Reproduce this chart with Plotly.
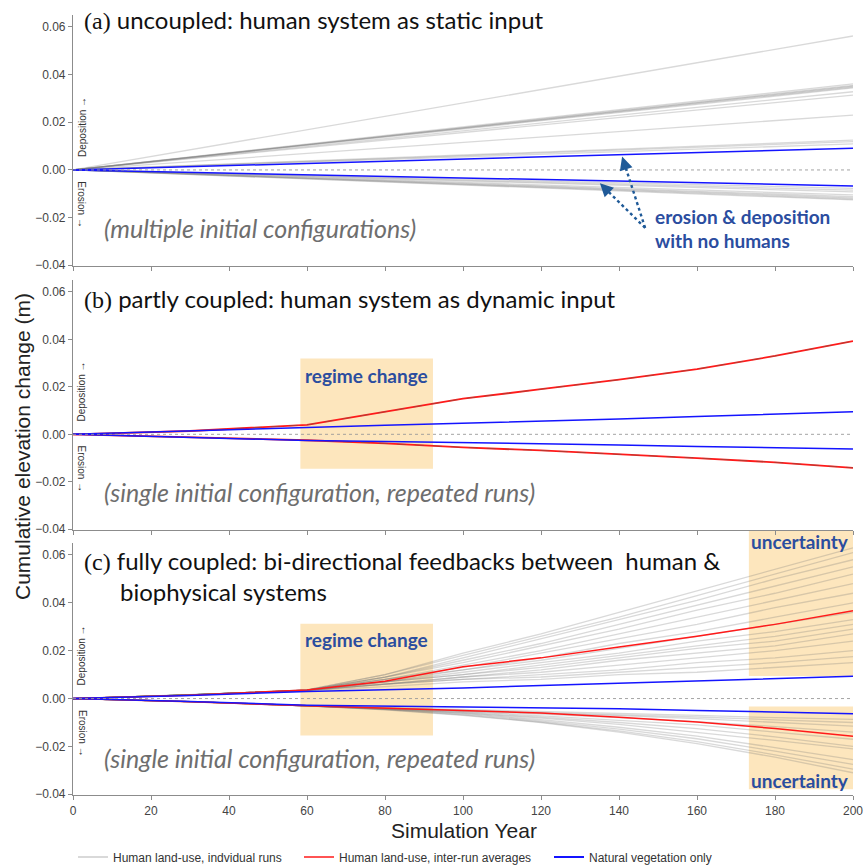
import plotly.graph_objects as go
from plotly.subplots import make_subplots

# ---------------- data ----------------
A_YEARS = [0, 200]
A_RUNS = [
    [0, 0.0562], [0, 0.0361], [0, 0.0355], [0, 0.0352], [0, 0.0348], [0, 0.0344],
    [0, 0.0328], [0, 0.0314], [0, 0.0230], [0, 0.0125], [0, 0.0119], [0, 0.0109],
    [0, -0.0077], [0, -0.0085], [0, -0.0092], [0, -0.0105], [0, -0.0112],
    [0, -0.0117], [0, -0.0122], [0, -0.0126],
]
A_NAT = [[0, 0.0091], [0, -0.0067]]

YEARS = [0, 30, 60, 80, 100, 120, 140, 160, 180, 200]

B_RUNS = [
    [0, 0.0014, 0.0040, 0.0095, 0.0150, 0.0190, 0.0230, 0.0275, 0.0330, 0.0393],
    [0, -0.0011, -0.0025, -0.0038, -0.0055, -0.0068, -0.0083, -0.0100, -0.0118, -0.0141],
]
B_AVG = [
    [0, 0.0014, 0.0040, 0.0095, 0.0150, 0.0190, 0.0230, 0.0275, 0.0330, 0.0393],
    [0, -0.0011, -0.0025, -0.0038, -0.0055, -0.0068, -0.0083, -0.0100, -0.0118, -0.0141],
]
B_NAT = [
    [0, 0.0013, 0.0029, 0.0038, 0.0046, 0.0055, 0.0065, 0.0075, 0.0085, 0.0095],
    [0, -0.0012, -0.0026, -0.0030, -0.0034, -0.0039, -0.0045, -0.0051, -0.0057, -0.0062],
]

C_RUNS = [
    [0, .0015, .0036, .010, .019, .027, .036, .045, .054, .063],
    [0, .0015, .0036, .010, .018, .026, .034, .043, .052, .061],
    [0, .0015, .0035, .009, .017, .025, .033, .041, .050, .058],
    [0, .0015, .0035, .009, .016, .023, .031, .039, .047, .055],
    [0, .0015, .0035, .009, .015, .022, .029, .037, .044, .052],
    [0, .0015, .0035, .008, .014, .020, .027, .034, .041, .048],
    [0, .0015, .0035, .008, .013, .019, .025, .031, .038, .044],
    [0, .0015, .0035, .008, .012, .017, .023, .028, .034, .040],
    [0, .0015, .0035, .007, .012, .016, .021, .026, .031, .036],
    [0, .0015, .0035, .007, .011, .015, .019, .024, .028, .033],
    [0, .0015, .0034, .007, .010, .014, .018, .022, .026, .031],
    [0, .0015, .0034, .007, .010, .013, .017, .021, .024, .029],
    [0, .0015, .0034, .006, .009, .012, .016, .019, .022, .027],
    [0, .0015, .0034, .006, .009, .011, .014, .017, .020, .024],
    [0, .0015, .0034, .006, .008, .010, .012, .015, .017, .020],
    [0, .0015, .0033, .006, .008, .009, .011, .013, .015, .0175],
    [0, .0015, .0033, .005, .007, .008, .010, .011, .013, .015],
    [0, -.0013, -.0030, -.0038, -.0045, -.0053, -.0060, -.0070, -.0080, -.0087],
    [0, -.0013, -.0030, -.0039, -.0047, -.0056, -.0065, -.0077, -.0089, -.0100],
    [0, -.0013, -.0030, -.0040, -.0049, -.0060, -.0071, -.0084, -.0099, -.0115],
    [0, -.0013, -.0030, -.0041, -.0052, -.0065, -.0080, -.0096, -.0117, -.0140],
    [0, -.0013, -.0030, -.0042, -.0055, -.0072, -.0090, -.0110, -.0140, -.0170],
    [0, -.0013, -.0030, -.0043, -.0058, -.0078, -.0100, -.0126, -.0160, -.0200],
    [0, -.0013, -.0030, -.0043, -.0060, -.0082, -.0108, -.0140, -.0175, -.0210],
    [0, -.0013, -.0031, -.0044, -.0062, -.0088, -.0120, -.0157, -.0205, -.0255],
    [0, -.0013, -.0031, -.0045, -.0065, -.0093, -.0128, -.0168, -.0220, -.0275],
    [0, -.0013, -.0031, -.0046, -.0068, -.0098, -.0135, -.0180, -.0235, -.0295],
    [0, -.0013, -.0031, -.0047, -.0070, -.0100, -.0140, -.0188, -.0245, -.0310],
]
C_AVG = [
    [0, .0014, .0036, .0072, .0133, .0170, .0215, .0260, .0310, .0367],
    [0, -.0013, -.0030, -.0040, -.0050, -.0060, -.0078, -.0098, -.0125, -.0157],
]
C_NAT = [
    [0, .0013, .0030, .0037, .0044, .0055, .0065, .0075, .0085, .0093],
    [0, -.0012, -.0028, -.0032, -.0035, -.0038, -.0043, -.0050, -.0057, -.0063],
]

Y_TICKS = [-0.04, -0.02, 0.00, 0.02, 0.04, 0.06]
Y_TICK_TEXT = ["−0.04", "−0.02", "0.00", "0.02", "0.04", "0.06"]
X_TICKS = [0, 20, 40, 60, 80, 100, 120, 140, 160, 180, 200]

LEG_RUNS = "Human land-use, indvidual runs"
LEG_AVG = "Human land-use, inter-run averages"
LEG_NAT = "Natural vegetation only"

# ---------------- styles ----------------
GREY = "rgba(120,120,120,0.28)"
RED = "#ff1a1a"
BLUE = "#1414ff"
TXT_BLUE = "#2b4d9f"
BOX = "#fde6bd"
SANS = "Lato, 'Open Sans', sans-serif"
TICKFONT = dict(family="'Liberation Sans', Arial, sans-serif", size=12, color="#444")

fig = make_subplots(rows=3, cols=1, shared_xaxes=False)

def add_group(row, xs, runs, avgs, nats):
    for r in runs:
        fig.add_trace(go.Scatter(x=xs, y=r, mode="lines", line=dict(color=GREY, width=1.3),
                                 showlegend=False, hoverinfo="skip"), row=row, col=1)
    for a in avgs:
        fig.add_trace(go.Scatter(x=xs, y=a, mode="lines", line=dict(color=RED, width=1.5),
                                 showlegend=False, hoverinfo="skip"), row=row, col=1)
    for n in nats:
        fig.add_trace(go.Scatter(x=xs, y=n, mode="lines", line=dict(color=BLUE, width=1.5),
                                 showlegend=False, hoverinfo="skip"), row=row, col=1)

add_group(1, A_YEARS, A_RUNS, [], A_NAT)
for a in B_AVG:
    fig.add_trace(go.Scatter(x=YEARS, y=a, mode="lines", line=dict(color=RED, width=1.8),
                             showlegend=False, hoverinfo="skip"), row=2, col=1)
for r in B_RUNS:
    fig.add_trace(go.Scatter(x=YEARS, y=r, mode="lines",
                             line=dict(color="rgba(90,100,80,0.45)", width=1, dash="dash"),
                             showlegend=False, hoverinfo="skip"), row=2, col=1)
for n in B_NAT:
    fig.add_trace(go.Scatter(x=YEARS, y=n, mode="lines", line=dict(color=BLUE, width=1.5),
                             showlegend=False, hoverinfo="skip"), row=2, col=1)
add_group(3, YEARS, C_RUNS, C_AVG, C_NAT)

fig.add_trace(go.Scatter(x=[None], y=[None], mode="lines", name=LEG_RUNS,
                         line=dict(color="rgba(205,205,205,1)", width=1.5), legend="legend"), row=3, col=1)
fig.add_trace(go.Scatter(x=[None], y=[None], mode="lines", name=LEG_AVG,
                         line=dict(color=RED, width=1.5), legend="legend2"), row=3, col=1)
fig.add_trace(go.Scatter(x=[None], y=[None], mode="lines", name=LEG_NAT,
                         line=dict(color=BLUE, width=2), legend="legend3"), row=3, col=1)

# ---------------- layout geometry ----------------
FW, FH = 864, 865
PL, PR, PT, PB = 73, 853, 15, 795          # plot area in page pixels
L, R, T, B = PL, FW - PR, PT, FH - PB
PW, PH = PR - PL, PB - PT

def py(px):   # page y pixel -> paper fraction
    return (PB - px) / PH

def pxx(px):  # page x pixel -> paper fraction
    return (px - PL) / PW

domains = [[py(266), py(15)], [py(530), py(280)], [py(795), py(543)]]
YR = [-0.0403, 0.065]
for i in range(3):
    sfx = "" if i == 0 else str(i + 1)
    fig.layout["yaxis" + sfx].update(
        domain=domains[i], range=YR, tickvals=Y_TICKS, ticktext=Y_TICK_TEXT, automargin=False,
        showline=True, linecolor="#8c8c8c", linewidth=1.2, ticks="outside", ticklen=4,
        tickcolor="#8c8c8c", showgrid=False, zeroline=False, tickfont=TICKFONT)
    fig.layout["xaxis" + sfx].update(
        range=[0, 200], tickvals=X_TICKS, showline=True, linecolor="#8c8c8c", linewidth=1.2,
        ticks="outside", ticklen=4, tickcolor="#8c8c8c", showgrid=False, zeroline=False,
        tickfont=TICKFONT, showticklabels=(i == 2), automargin=False)

shapes = []
ann = []
for i in range(3):
    sfx = "" if i == 0 else str(i + 1)
    shapes.append(dict(type="line", xref="x" + sfx + " domain", yref="y" + sfx, x0=0, x1=1, y0=0, y1=0,
                       line=dict(color="#9a9a9a", width=0.9, dash="dot"), layer="above"))
    ann.append(dict(xref="x" + sfx + " domain", yref="y" + sfx, x=0.0115, y=0.0180,
                    xanchor="center", yanchor="middle",
                    text="Deposition →", textangle=-90, showarrow=False,
                    font=dict(family="'Liberation Sans', Arial", size=10, color="#333")))
    ann.append(dict(xref="x" + sfx + " domain", yref="y" + sfx, x=0.0115, y=-0.0148,
                    xanchor="center", yanchor="middle",
                    text="Erosion →", textangle=90, showarrow=False,
                    font=dict(family="'Liberation Sans', Arial", size=10, color="#333")))

BFONT = dict(family=SANS, size=19, color=TXT_BLUE)
for sfx, y0, y1 in [("2", -0.0145, 0.0319), ("3", -0.0154, 0.0313)]:
    shapes.append(dict(type="rect", xref="x" + sfx, yref="y" + sfx, x0=58.3, x1=92.3, y0=y0, y1=y1,
                       fillcolor=BOX, line=dict(width=0), layer="below"))
    ann.append(dict(xref="x" + sfx, yref="y" + sfx, x=75.2, y=0.0246, text="<b>regime change</b>",
                    xanchor="center", yanchor="middle", showarrow=False, font=BFONT))
shapes.append(dict(type="rect", xref="x3", yref="paper", x0=173.3, x1=200, y0=py(676),
                   y1=py(530), fillcolor=BOX, line=dict(width=0), layer="below"))
shapes.append(dict(type="rect", xref="x3", yref="y3", x0=173.3, x1=200, y0=-0.0379, y1=-0.0033,
                   fillcolor=BOX, line=dict(width=0), layer="below"))
ann.append(dict(xref="x3", yref="paper", x=186.5, y=py(541), text="<b>uncertainty</b>",
                xanchor="center", yanchor="middle", showarrow=False, font=BFONT))
ann.append(dict(xref="x3", yref="y3", x=186.5, y=-0.0344, text="<b>uncertainty</b>",
                xanchor="center", yanchor="middle", showarrow=False, font=BFONT))

SERIF = "<span style=\"font-family:'Liberation Serif',serif\">%s</span>"
TFONT = dict(family=SANS, size=24, color="#111")
for px_, yy, txt in [(82, 20, SERIF % "(a)" + " uncoupled: human system as static input"),
                     (82, 298, SERIF % "(b)" + " partly coupled: human system as dynamic input"),
                     (82, 560, SERIF % "(c)" + " fully coupled: bi-directional feedbacks between  human &"),
                     (118, 591, "biophysical systems")]:
    ann.append(dict(xref="paper", yref="paper", x=pxx(px_), y=py(yy), xanchor="left", yanchor="middle",
                    text=txt, showarrow=False, font=TFONT))

IFONT = dict(family=SANS, size=25, color="#6e6e6e")
for yy, txt in [(228, "(multiple initial configurations)"),
                (492, "(single initial configuration, repeated runs)"),
                (758, "(single initial configuration, repeated runs)")]:
    ann.append(dict(xref="paper", yref="paper", x=pxx(102), y=py(yy), xanchor="left", yanchor="middle",
                    text="<i>%s</i>" % txt, showarrow=False, font=IFONT))

NFONT = dict(family=SANS, size=19, color=TXT_BLUE)
ann.append(dict(xref="paper", yref="paper", x=pxx(653), y=py(217), xanchor="left", yanchor="middle",
                text="<b>erosion &amp; deposition</b>", showarrow=False, font=NFONT))
ann.append(dict(xref="paper", yref="paper", x=pxx(653), y=py(241), xanchor="left", yanchor="middle",
                text="<b>with no humans</b>", showarrow=False, font=NFONT))
ARROW = "#1f5a98"
TX, TY = 146.7, -0.0243
for hx, hy in [(140.8, 0.0056), (135.1, -0.0056)]:
    shapes.append(dict(type="line", xref="x", yref="y", x0=TX, y0=TY, x1=hx + (TX - hx) * 0.12,
                       y1=hy + (TY - hy) * 0.12, line=dict(color=ARROW, width=2.4, dash="dot")))
    ann.append(dict(xref="x", yref="y", x=hx, y=hy, axref="x", ayref="y",
                    ax=hx + (TX - hx) * 0.14, ay=hy + (TY - hy) * 0.14, text="",
                    showarrow=True, arrowhead=2, arrowsize=1.2, arrowwidth=2.2, arrowcolor=ARROW))

ann.append(dict(xref="paper", yref="paper", x=pxx(22), y=py(447), xanchor="center", yanchor="middle",
                text="Cumulative elevation change (m)", textangle=-90, showarrow=False,
                font=dict(family="'Liberation Sans', Arial", size=21, color="#222")))
ann.append(dict(xref="paper", yref="paper", x=pxx(464), y=py(830), xanchor="center", yanchor="middle",
                text="Simulation Year", showarrow=False,
                font=dict(family="'Liberation Sans', Arial", size=21, color="#222")))

LEGFONT = dict(family="'Liberation Sans', Arial", size=12, color="#333")
common = dict(orientation="h", xref="container", yref="container", y=(FH - 857) / FH,
              yanchor="middle", xanchor="left", font=LEGFONT, bgcolor="rgba(0,0,0,0)")
fig.update_layout(
    width=FW, height=FH, margin=dict(l=L, r=R, t=T, b=B, autoexpand=False),
    paper_bgcolor="white", plot_bgcolor="white",
    shapes=shapes, annotations=ann, showlegend=True,
    legend=dict(x=73 / FW, **common),
    legend2=dict(x=299 / FW, **common),
    legend3=dict(x=549 / FW, **common),
)

fig.write_html("out.html", config={"displayModeBar": False},
               post_script="document.body.style.margin='0px';document.body.style.overflow='hidden';")
